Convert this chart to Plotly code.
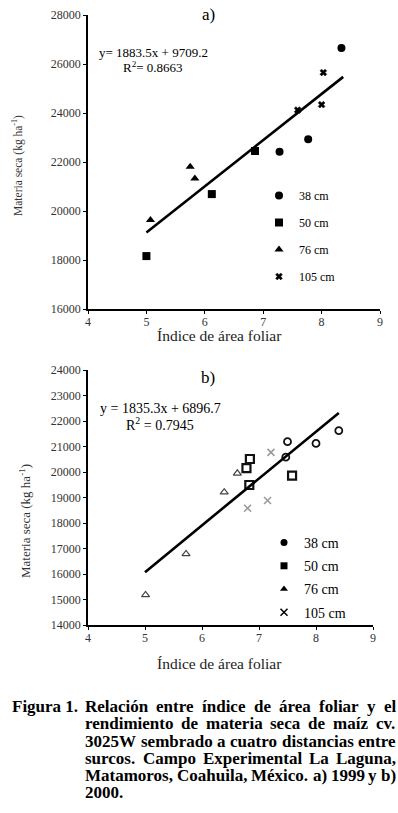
import plotly.graph_objects as go

# ---------------- data ----------------
series_names = ["38 cm", "50 cm", "76 cm", "105 cm"]

# a) 1999
a_x38 = [8.34, 7.77, 7.28]
a_y38 = [26650, 22930, 22420]
a_x50 = [6.86, 6.12, 5.00]
a_y50 = [22450, 20690, 18160]
a_x76 = [5.75, 5.83, 5.07]
a_y76 = [21810, 21330, 19630]
a_x105 = [8.03, 8.00, 7.59]
a_y105 = [25650, 24340, 24120]
a_slope, a_intercept = 1883.5, 9709.2
a_fit_x = [5.0, 8.37]

# b) 2000
b_x38 = [8.40, 8.00, 7.50, 7.47]
b_y38 = [21620, 21120, 21190, 20580]
b_x50 = [6.84, 6.78, 6.83, 7.58]
b_y50 = [20510, 20150, 19490, 19860]
b_x76 = [6.62, 6.39, 5.72, 5.01]
b_y76 = [19950, 19210, 16790, 15180]
b_x105 = [7.21, 7.15, 6.80]
b_y105 = [20770, 18880, 18580]
b_slope, b_intercept = 1835.3, 6896.7
b_fit_x = [5.0, 8.4]

x_ticks = [4, 5, 6, 7, 8, 9]
a_y_ticks = [16000, 18000, 20000, 22000, 24000, 26000, 28000]
b_y_ticks = [14000, 15000, 16000, 17000, 18000, 19000, 20000, 21000, 22000, 23000, 24000]

caption_lines = [
    "Figura 1. Relación entre índice de área foliar y el",
    "rendimiento de materia seca de maíz cv.",
    "3025W sembrado a cuatro distancias entre",
    "surcos. Campo Experimental La Laguna,",
    "Matamoros, Coahuila, México. a) 1999 y b)",
    "2000.",
]

# ---------------- figure ----------------
W, H = 398, 813
SERIF = "Liberation Serif"

def px(x):
    return x / W

def py(y):
    return 1 - y / H

fig = go.Figure()

# top chart traces
top_sym = ["circle", "square", "triangle-up", "x"]
top_size = [8, 8, 8, 6]
a_data = [(a_x38, a_y38), (a_x50, a_y50), (a_x76, a_y76), (a_x105, a_y105)]
for i, (xs, ys) in enumerate(a_data):
    fig.add_trace(go.Scatter(
        x=xs, y=ys, mode="markers", name=series_names[i],
        marker=dict(symbol=top_sym[i], size=top_size[i], color="black",
                    line=dict(width=0.5 if i == 3 else 0, color="black")),
        xaxis="x", yaxis="y", legend="legend", legendgroup="a" + str(i),
    ))
fig.add_trace(go.Scatter(
    x=a_fit_x, y=[a_slope * v + a_intercept for v in a_fit_x], mode="lines",
    line=dict(color="black", width=2.6), showlegend=False, xaxis="x", yaxis="y"))

# bottom chart traces (hollow data markers)
bot_sym = ["circle-open", "square-open", "triangle-up-open", "x-thin-open"]
bot_col = ["#111111", "#111111", "#444444", "#999999"]
bot_lw = [1.8, 2.2, 1.2, 1.5]
bot_size = [7, 8, 7, 7]
b_data = [(b_x38, b_y38), (b_x50, b_y50), (b_x76, b_y76), (b_x105, b_y105)]
for i, (xs, ys) in enumerate(b_data):
    fig.add_trace(go.Scatter(
        x=xs, y=ys, mode="markers", name=series_names[i], showlegend=False,
        marker=dict(symbol=bot_sym[i], size=bot_size[i], color=bot_col[i],
                    line=dict(width=bot_lw[i], color=bot_col[i])),
        xaxis="x2", yaxis="y2",
    ))
fig.add_trace(go.Scatter(
    x=b_fit_x, y=[b_slope * v + b_intercept for v in b_fit_x], mode="lines",
    line=dict(color="black", width=2.6), showlegend=False, xaxis="x2", yaxis="y2"))
# legend entries of bottom chart (solid symbols)
leg_sym = ["circle", "square", "triangle-up", "x-thin-open"]
for i in range(4):
    fig.add_trace(go.Scatter(
        x=[None], y=[None], mode="markers", name=series_names[i],
        marker=dict(symbol=leg_sym[i], size=7, color="black",
                    line=dict(width=1.5 if i == 3 else 0, color="black")),
        xaxis="x2", yaxis="y2", legend="legend2", legendgroup="b" + str(i),
    ))

axis_common = dict(showline=True, linecolor="black", linewidth=1.5, showgrid=False,
                   zeroline=False, ticks="outside", ticklen=3, tickcolor="black",
                   tickformat="d",
                   tickfont=dict(family=SERIF, size=12, color="#333333"))

fig.update_layout(
    width=W, height=H, margin=dict(l=0, r=0, t=0, b=0, autoexpand=False),
    paper_bgcolor="white", plot_bgcolor="white", showlegend=True,
    font=dict(family=SERIF, color="black"),
    xaxis=dict(domain=[px(88), px(380)], range=[4, 9], tickvals=x_ticks,
               anchor="y", ticklabelstandoff=-2, **axis_common),
    yaxis=dict(domain=[py(309), py(15)], range=[16000, 28000], tickvals=a_y_ticks,
               anchor="x", **axis_common),
    xaxis2=dict(domain=[px(88), px(373)], range=[4, 9], tickvals=x_ticks,
                anchor="y2", ticklabelstandoff=-2, **axis_common),
    yaxis2=dict(domain=[py(625), py(370)], range=[14000, 24000], tickvals=b_y_ticks,
                anchor="x2", **axis_common),
    legend=dict(x=px(259), y=py(181), xanchor="left", yanchor="top",
                font=dict(family=SERIF, size=12, color="black"),
                bgcolor="rgba(0,0,0,0)", itemwidth=30, tracegroupgap=8,
                traceorder="grouped"),
    legend2=dict(x=px(264), y=py(527), xanchor="left", yanchor="top",
                 font=dict(family=SERIF, size=14, color="black"),
                 bgcolor="rgba(0,0,0,0)", itemwidth=30, tracegroupgap=2,
                 traceorder="grouped"),
)

ann = []

def add_text(text, x, y, size, color="black", xanchor="center", angle=0, align="center"):
    ann.append(dict(text=text, x=px(x), y=py(y), xref="paper", yref="paper",
                    xanchor=xanchor, yanchor="middle", showarrow=False, textangle=angle,
                    align=align, font=dict(family=SERIF, size=size, color=color)))

# panel labels
add_text("a)", 208, 15, 17)
add_text("b)", 208, 378, 17)
# equations
add_text("y= 1883.5x + 9709.2", 153, 52, 13)
add_text("R<sup>2</sup>= 0.8663", 153, 67, 13)
add_text("y = 1835.3x + 6896.7", 160, 408, 14)
add_text("R<sup>2</sup> = 0.7945", 160, 424, 14)
# axis titles
add_text("Índice de área foliar", 219, 335, 15.5, "#222222")
add_text("Índice de área foliar", 220, 663, 15.5, "#222222")
add_text("Materia seca (kg ha<sup>-1</sup>)", 17, 166, 11.5, "#333333", angle=-90)
add_text("Materia seca (kg ha<sup>-1</sup>)", 25, 521, 13, "#333333", angle=-90)

# caption, justified word by word (Times bold advance widths, 1/1000 em)
TW = {' ': 250, '.': 250, ',': 250, ')': 333, '(': 333, '0': 500, '1': 500, '2': 500, '3': 500,
      '5': 500, '9': 500, 'a': 500, 'b': 556, 'c': 444, 'd': 556, 'e': 444, 'f': 333, 'g': 500,
      'h': 556, 'i': 278, 'í': 278, 'l': 278, 'm': 833, 'n': 556, 'ó': 500, 'o': 500, 'p': 556,
      'r': 444, 's': 389, 't': 333, 'u': 556, 'v': 500, 'x': 500, 'y': 500, 'z': 444, 'á': 500,
      'é': 444, 'C': 722, 'E': 667, 'F': 611, 'L': 667, 'M': 944, 'R': 722, 'W': 1000}
CAP_SIZE = 17

def wwidth(word):
    return sum(TW.get(c, 500) for c in word) / 1000 * CAP_SIZE

cap_y = [706, 723, 741, 758, 775, 792]
for i, line in enumerate(caption_lines):
    left = 85
    right = 396
    words = line.split(" ")
    if i == len(caption_lines) - 1:
        add_text("<b>" + line + "</b>", left - 2, cap_y[i], CAP_SIZE, xanchor="left")
        continue
    if i == 0:
        add_text("<b>Figura 1.</b>", 10, cap_y[i], CAP_SIZE, xanchor="left")
        words = words[2:]
    widths = [wwidth(w) for w in words]
    gap = (right - left - sum(widths)) / (len(words) - 1)
    xpos = left
    for w, wd in zip(words, widths):
        add_text("<b>" + w + "</b>", xpos - 2, cap_y[i], CAP_SIZE, xanchor="left")
        xpos += wd + gap

fig.update_layout(annotations=ann)

fig.write_html("out.html", config={"displayModeBar": False},
               post_script="document.body.style.margin='0px';")
